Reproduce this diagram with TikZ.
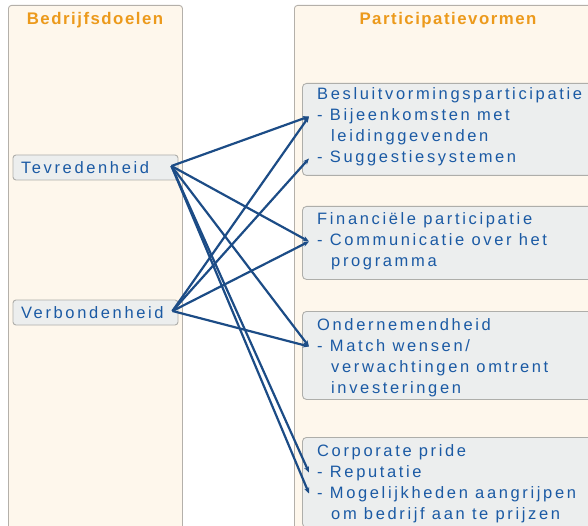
\documentclass[tikz,border=0pt]{standalone}
\usepackage{fontspec}
\newfontfamily\bodyfont{Liberation Sans}[LetterSpace=16]
\newfontfamily\headfont{Liberation Sans}[LetterSpace=9]
\usetikzlibrary{arrows.meta}
\definecolor{panelfill}{HTML}{FEF7EC}
\definecolor{panelline}{HTML}{B4B0AA}
\definecolor{boxfill}{HTML}{ECEEEE}
\definecolor{boxline}{HTML}{AEAEAA}
\definecolor{headorange}{HTML}{EC9A1C}
\definecolor{itemblue}{HTML}{1B5AA4}
\definecolor{linkblue}{HTML}{1C4C86}
\begin{document}
\begin{tikzpicture}[x=1pt,y=-1pt,
  panel/.style={draw=panelline,fill=panelfill,line width=0.9pt,rounded corners=3pt,
    anchor=north west,inner sep=0pt},
  goalbox/.style={draw=boxline,fill=boxfill,line width=0.9pt,rounded corners=3pt,
    minimum width=165pt,minimum height=25pt,text width=149pt,inner xsep=8pt,
    align=left,text=itemblue,font=\bodyfont\fontsize{16.5}{21}\selectfont},
  formbox/.style={draw=boxline,fill=boxfill,line width=0.9pt,rounded corners=4pt,
    anchor=north west,minimum width=320pt,inner sep=0pt},
  head/.style={text=headorange,font=\headfont\bfseries\fontsize{16.8}{20}\selectfont,
    inner sep=0pt,anchor=base},
  item/.style={text=itemblue,font=\bodyfont\fontsize{16.5}{21}\selectfont,
    inner sep=0pt,anchor=base west},
  link/.style={draw=linkblue,line width=2.2pt,
    -{Stealth[length=6pt,width=5pt]}}]
\useasboundingbox (0,0) rectangle (588,526);

% the two columns
\node[panel,minimum width=174pt,minimum height=540pt] (doelen) at (8,5) {};
\node[panel,minimum width=320pt,minimum height=540pt] (vormen) at (294,5) {};
\node[head] (doelenkop) at (95,25) {Bedrijfsdoelen};
\node[head] (vormenkop) at (448,25) {Participatievormen};

% business goals
\node[goalbox] (tev) at (95.5,167.5) {Tevredenheid};
\node[goalbox] (verb) at (95.5,312.5) {Verbondenheid};

% forms of participation
\node[formbox,minimum height=92pt] (besl) at (302,83) {};
\node[item] (beslkop) at (317,100) {Besluitvormingsparticipatie};
\node[item] (bij) at (317,121) {- Bijeenkomsten met};
\node[item] (bij2) at (331,142) {leidinggevenden};
\node[item] (sug) at (317,163) {- Suggestiesystemen};

\node[formbox,minimum height=73pt] (fin) at (302,206) {};
\node[item] (finkop) at (317,225) {Financiële participatie};
\node[item] (com) at (317,246) {- Communicatie over het};
\node[item] (com2) at (331,267) {programma};

\node[formbox,minimum height=88pt] (ond) at (302,311) {};
\node[item] (ondkop) at (317,330) {Ondernemendheid};
\node[item] (mat) at (317,351) {- Match wensen/};
\node[item] (mat2) at (331,372) {verwachtingen omtrent};
\node[item] (mat3) at (331,393) {investeringen};

\node[formbox,minimum height=90pt] (cor) at (302,437) {};
\node[item] (corkop) at (317,456) {Corporate pride};
\node[item] (rep) at (317,477) {- Reputatie};
\node[item] (mog) at (317,498) {- Mogelijkheden aangrijpen};
\node[item] (mog2) at (331,519) {om bedrijf aan te prijzen};

% links between goals and forms
\coordinate (tevout) at ([xshift=-7pt,yshift=1.5pt]tev.east);
\coordinate (verbout) at ([xshift=-6pt,yshift=1.5pt]verb.east);
\foreach \target in {bij,com,mat,rep,mog}
  \draw[link] (tevout) -- ([xshift=-8pt,yshift=4.5pt]\target.base west);
\foreach \target in {bij,sug,com,mat}
  \draw[link] (verbout) -- ([xshift=-8pt,yshift=4.5pt]\target.base west);
\end{tikzpicture}
\end{document}
